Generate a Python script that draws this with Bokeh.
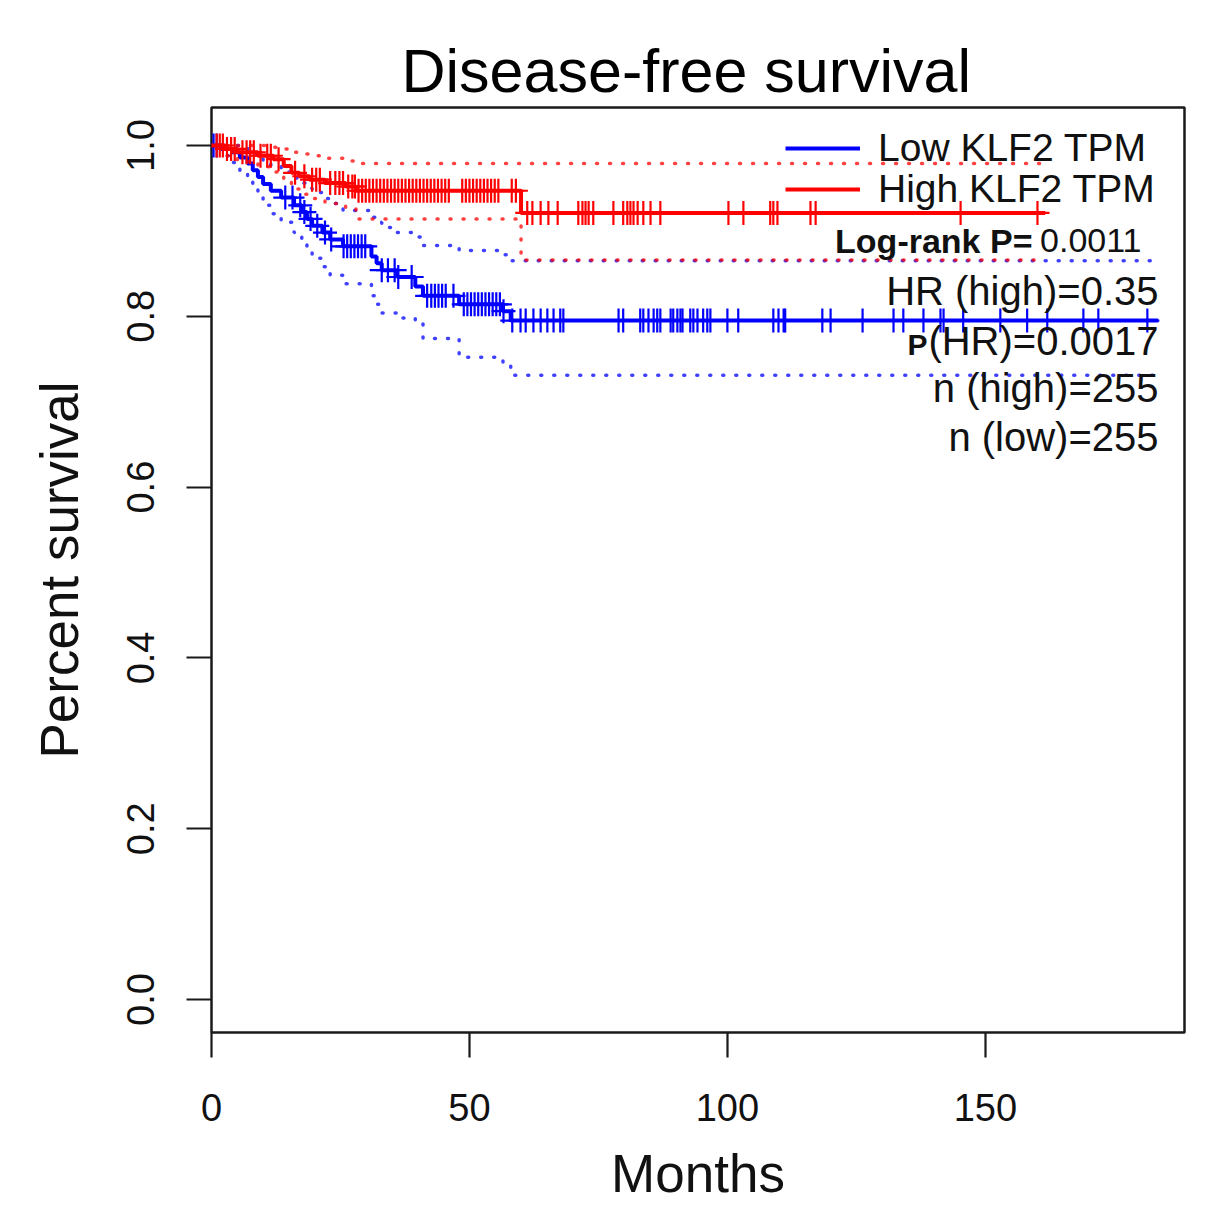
import numpy as np
from bokeh.plotting import figure
from bokeh.models import Range1d, FixedTicker, NumeralTickFormatter, Legend, LegendItem, Label
from bokeh.embed import file_html
from bokeh.resources import INLINE

FONT = "Liberation Sans"

# Kaplan-Meier steps (months, survival)
high_t = [0, 2.5, 5, 9, 12, 14, 15.5, 17, 19, 22, 26, 28, 60]
high_s = [1.0, 0.996, 0.992, 0.988, 0.984, 0.976, 0.968, 0.964, 0.960, 0.956, 0.952, 0.947, 0.921]
high_hi = [1.0, 1.0, 1.0, 1.0, 0.998, 0.996, 0.992, 0.990, 0.988, 0.985, 0.982, 0.979, 0.979]
high_lo = [1.0, 0.988, 0.981, 0.975, 0.969, 0.958, 0.949, 0.943, 0.938, 0.932, 0.926, 0.914, 0.866]
high_end = 161.6

low_t = [0, 2, 4, 5.5, 7, 8, 9, 10, 11.5, 13.5, 16, 17.5, 18.5, 19.5, 21.5, 23, 25.5,
         31, 32, 33, 36, 39.5, 41, 48, 56.5, 58]
low_s = [1.0, 0.996, 0.992, 0.986, 0.979, 0.971, 0.963, 0.955, 0.947, 0.939, 0.930, 0.922,
         0.914, 0.906, 0.898, 0.890, 0.882, 0.870, 0.862, 0.854, 0.846, 0.835, 0.824, 0.814,
         0.806, 0.795]
low_hi = [1.0, 1.0, 1.0, 0.999, 0.995, 0.991, 0.986, 0.981, 0.975, 0.969, 0.962, 0.956,
          0.950, 0.945, 0.938, 0.932, 0.924, 0.916, 0.910, 0.904, 0.898, 0.893, 0.883, 0.877,
          0.872, 0.865]
low_lo = [1.0, 0.988, 0.980, 0.970, 0.960, 0.950, 0.940, 0.930, 0.920, 0.910, 0.898, 0.888,
          0.878, 0.868, 0.858, 0.848, 0.838, 0.824, 0.814, 0.804, 0.798, 0.792, 0.774, 0.752,
          0.742, 0.731]
low_end = 183.5

# censored times
high_cens = [1, 1.6, 2.2, 3, 3.8, 4.5, 6, 6.8, 7.5, 8.2, 9.5, 10.8, 11.5, 13, 16.2, 18, 19.5,
             20.3, 21, 23, 24, 24.8, 25.5, 26.5, 27.3, 27.8, 28.5, 29.2, 29.9, 30.6, 31.3, 32.0,
             32.7, 33.4, 34.1, 34.8, 35.5, 36.2, 36.9, 37.6, 38.3, 39.0, 39.7, 40.4, 41.1, 41.8,
             42.5, 43.2, 43.9, 44.6, 45.3, 46.0, 48.6, 49.3, 50.0, 50.7, 51.4, 52.1, 52.8, 53.5,
             54.2, 54.9, 55.6, 58.2, 59.0, 61.2, 62.2, 63.8, 65.3, 67.1, 71.1, 71.9, 72.5, 73.1,
             74.0, 77.9, 79.8, 80.6, 81.2, 81.8, 82.6, 83.7, 85.1, 87.0, 100.2, 103.1, 108.3,
             108.9, 109.7, 116.1, 117.1, 145.2, 160.1]
low_cens = [0.4, 1.0, 14.3, 15.7, 17.2, 18.0, 19.2, 20.5, 22.0, 23.2, 25.6, 26.3, 27.0, 27.7,
            28.4, 29.1, 29.8, 33.0, 34.2, 35.5, 36.2, 38.8, 41.8, 42.6, 43.3, 44.0, 44.7, 45.4,
            46.9, 48.9, 49.6, 50.3, 51.0, 51.7, 52.4, 53.1, 53.8, 54.5, 55.2, 55.9, 56.6, 58.3,
            59.9, 60.9, 62.4, 63.8, 65.1, 66.3, 67.6, 68.2, 78.9, 79.8, 83.1, 83.7, 84.7, 85.7,
            86.4, 87.0, 89.0, 89.5, 90.3, 90.9, 91.3, 92.8, 93.4, 94.2, 95.3, 96.1, 96.7, 100.0,
            102.1, 108.9, 109.9, 110.9, 111.2, 118.4, 120.0, 126.2, 132.2, 134.1, 138.0, 141.3,
            141.9, 145.7, 152.9, 158.1, 162.0, 169.0, 171.9, 181.4]

x_ticks = [0, 50, 100, 150]
y_ticks = [0, 0.2, 0.4, 0.6, 0.8, 1.0]


def extend(t, s, end):
    return list(t) + [end], list(s) + [s[-1]]


def value_at(t, s, times):
    idx = np.searchsorted(np.asarray(t), np.asarray(times), side="right") - 1
    return np.asarray(s)[idx]


p = figure(frame_width=973, frame_height=925, output_backend="svg", toolbar_location=None,
           x_range=Range1d(0, 188.6), y_range=Range1d(-0.0386, 1.0445),
           min_border_left=211, min_border_right=10, min_border_top=107, min_border_bottom=174,
           title="Disease-free survival")
p.background_fill_color = "white"
p.border_fill_color = "white"
p.grid.visible = False
p.outline_line_color = "#1a1a1a"
p.outline_line_width = 2.5

p.title.text_font = FONT
p.title.text_font_size = "61px"
p.title.text_font_style = "normal"
p.title.text_color = "#000000"
p.title.align = "left"
p.title.offset = 190
p.title.standoff = 6

for ax in (p.xaxis[0], p.yaxis[0]):
    ax.axis_line_color = None
    ax.major_tick_in = 0
    ax.major_tick_out = 25
    ax.major_tick_line_width = 2.2
    ax.major_tick_line_color = "#1a1a1a"
    ax.minor_tick_line_color = None
    ax.major_label_text_font = FONT
    ax.major_label_text_font_size = "38px"
    ax.major_label_text_color = "#111111"
    ax.axis_label_text_font = FONT
    ax.axis_label_text_font_size = "53px"
    ax.axis_label_text_font_style = "normal"
    ax.axis_label_text_color = "#111111"

p.xaxis.ticker = FixedTicker(ticks=x_ticks)
p.yaxis.ticker = FixedTicker(ticks=y_ticks)
p.yaxis.formatter = NumeralTickFormatter(format="0.0")
p.yaxis.major_label_orientation = "vertical"
p.xaxis.axis_label = "Months"
p.yaxis.axis_label = "Percent survival"
p.xaxis.major_label_standoff = 36
p.xaxis.axis_label_standoff = 20
p.yaxis.major_label_standoff = 32
p.yaxis.axis_label_standoff = 36

renderers = {}
for name, t, s, hi, lo, end, cens, col in [
        ("low", low_t, low_s, low_hi, low_lo, low_end, low_cens, "#0000FF"),
        ("high", high_t, high_s, high_hi, high_lo, high_end, high_cens, "#FF0000")]:
    for band in (hi, lo):
        bx, by = extend(t, band, end)
        p.step(bx, by, mode="after", line_color=col, line_width=3.5, line_alpha=0.75,
               line_dash="1 12", line_cap="round")
    lx, ly = extend(t, s, end)
    renderers[name] = p.step(lx, ly, mode="after", line_color=col, line_width=4)
    p.scatter(cens, value_at(t, s, cens), marker="cross", size=24, line_color=col,
              line_width=2.2)

for label, key, top in [("Low KLF2 TPM", "low", 44), ("High KLF2 TPM", "high", 85)]:
    leg = Legend(items=[LegendItem(label=label, renderers=[renderers[key]])],
                 location=(574, 925 - top - 19), padding=0, margin=0, spacing=0,
                 label_standoff=18, glyph_width=75, glyph_height=38, label_height=38,
                 label_text_font=FONT, label_text_font_size="39px",
                 label_text_color="#111111", background_fill_alpha=0, border_line_alpha=0)
    p.add_layout(leg, "center")

notes = [
    ("Log-rank P=", 821, 792, "34px", "bold"),
    ("0.0011", 930, 792, "34px", "normal"),
    ("HR (high)=0.35", 947, 742, "40px", "normal"),
    ("P", 716, 688, "30px", "bold"),
    ("(HR)=0.0017", 947, 692, "40px", "normal"),
    ("n (high)=255", 947, 645, "40px", "normal"),
    ("n (low)=255", 947, 596, "40px", "normal"),
]
for text, sx, sy, size, style in notes:
    p.add_layout(Label(x=sx, y=sy, x_units="screen", y_units="screen", text=text,
                       text_align="right", text_baseline="middle", text_font=FONT,
                       text_font_size=size, text_font_style=style, text_color="#111111"))

open("out.html", "w").write(file_html(p, INLINE))
